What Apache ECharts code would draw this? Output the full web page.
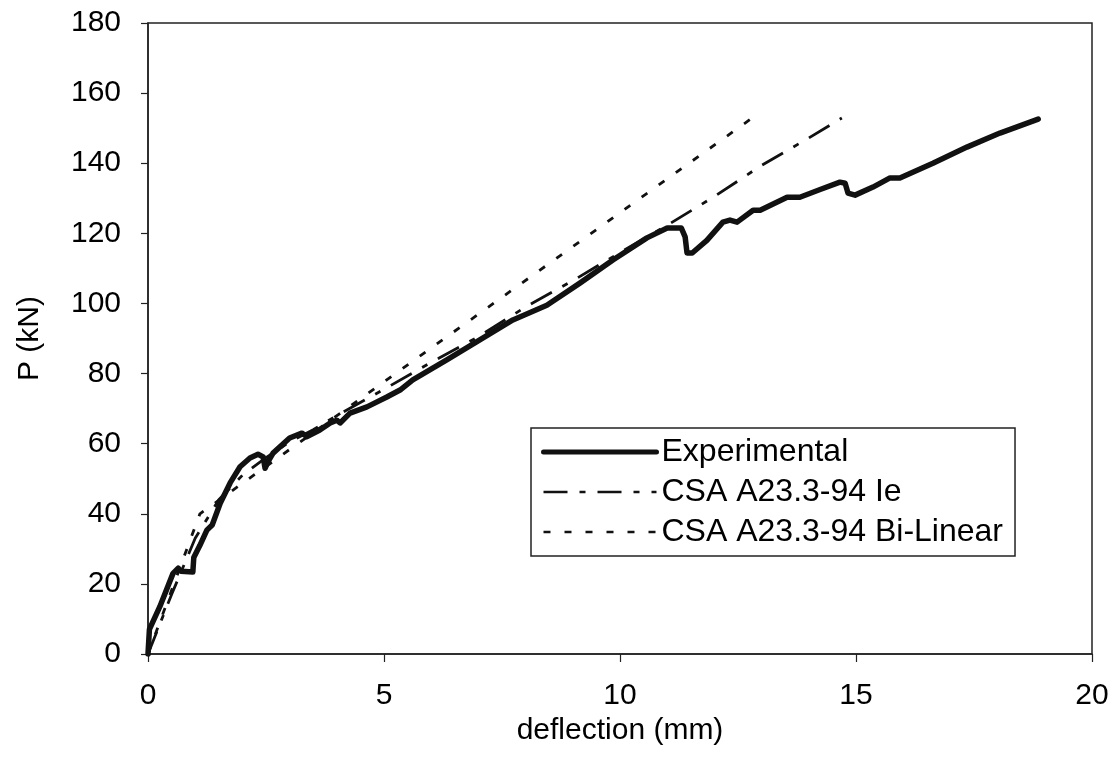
<!DOCTYPE html>
<html>
<head>
<meta charset="utf-8">
<script src="https://cdn.jsdelivr.net/npm/echarts@6/dist/echarts.min.js"></script>
<style>
html,body{margin:0;padding:0;background:#fff;}
#chart{width:1117px;height:757px;}
</style>
</head>
<body>
<div id="chart"></div>
<script>
// Experimental
var expX = [0,0.03,0.25,0.53,0.64,0.7,0.95,0.97,1.1,1.25,1.36,1.53,1.74,1.95,2.16,2.33,2.44,2.48,2.55,2.65,3.0,3.26,3.37,3.64,3.86,4.0,4.07,4.28,4.64,5.06,5.34,5.61,6.33,7.03,7.73,8.45,9.15,9.85,10.57,11.0,11.3,11.38,11.42,11.53,11.84,12.18,12.33,12.48,12.82,12.97,13.54,13.81,14.24,14.66,14.77,14.83,14.98,15.36,15.72,15.93,16.63,17.35,18.05,18.86];
var expY = [0,7,13.5,23,24.5,23.6,23.4,27.5,31,35.4,36.8,43,48.8,53.4,55.9,57,56.2,53,55,57.3,61.6,63,62,63.9,65.9,66.7,65.9,68.7,70.5,73.3,75.3,78.2,83.9,89.6,95.3,99.5,105.8,112.4,118.7,121.5,121.5,119,114.4,114.4,118,123.2,123.8,123.2,126.6,126.6,130.3,130.3,132.5,134.6,134.3,131.5,130.9,133.2,135.8,135.8,140,144.6,148.6,152.6];
// CSA A23.3-94 Ie
var ieX = [0,0.5,1.0,1.5,2.0,2.5,3.0,3.5,4.0,5.0,6.0,7.0,8.0,9.0,10.0,11.0,12.0,13.0,14.0,14.7];
var ieY = [0,17,33,44,51,56,60.5,64,68,75.5,83.2,90.5,99,106.5,114.5,122.3,130.5,139.4,147.2,152.9];
// CSA A23.3-94 Bi-Linear
var blX = [0,1.1,12.8];
var blY = [0,40,152.9];

var xTicks = [0,5,10,15,20];
var yTicks = [0,20,40,60,80,100,120,140,160,180];
var seriesNames = ['Experimental','CSA A23.3-94 Ie','CSA A23.3-94 Bi-Linear'];

function zip(a,b){return a.map(function(v,i){return [v,b[i]];});}

var FONT = '"Liberation Sans", Arial, sans-serif';
var IE_DASH = [24,12,6,12];
var BL_DASH = [7,14];
var chart = echarts.init(document.getElementById('chart'), null, {renderer:'canvas'});
chart.setOption({
  animation:false,
  backgroundColor:'#fff',
  grid:{left:148, top:23, right:25, bottom:103, show:true, borderColor:'#222', borderWidth:1.5, backgroundColor:'transparent'},
  xAxis:{
    type:'value', min:xTicks[0], max:xTicks[xTicks.length-1], interval:5,
    name:'deflection (mm)', nameLocation:'middle', nameGap:45,
    nameTextStyle:{fontFamily:FONT, fontSize:30, color:'#000'},
    axisLine:{lineStyle:{color:'#222', width:1.5}},
    axisTick:{show:true, inside:false, length:8, lineStyle:{color:'#222', width:1.2}},
    axisLabel:{fontFamily:FONT, fontSize:30, color:'#000', margin:27},
    splitLine:{show:false}
  },
  yAxis:{
    type:'value', min:yTicks[0], max:yTicks[yTicks.length-1], interval:20,
    name:'P (kN)', nameLocation:'middle', nameGap:103, nameRotate:90,
    nameTextStyle:{fontFamily:FONT, fontSize:30, color:'#000'},
    axisLine:{lineStyle:{color:'#222', width:1.5}},
    axisTick:{show:true, inside:false, length:7, lineStyle:{color:'#222', width:1.2}},
    axisLabel:{fontFamily:FONT, fontSize:30, color:'#000', margin:27},
    splitLine:{show:false}
  },
  legend:{
    orient:'vertical', left:531, top:428,
    backgroundColor:'#fff', borderColor:'#222', borderWidth:1.5,
    padding:[8,12,8,10], itemGap:8, itemWidth:113, itemHeight:32,
    itemStyle:{opacity:0, borderWidth:0},
    textStyle:{fontFamily:FONT, fontSize:32, lineHeight:32, color:'#000'},
    data:[
      {name:seriesNames[0], lineStyle:{width:5, color:'#111'}},
      {name:seriesNames[1], lineStyle:{width:2.5, color:'#111', type:IE_DASH}},
      {name:seriesNames[2], lineStyle:{width:2.5, color:'#111', type:BL_DASH}}
    ]
  },
  series:[
    {name:seriesNames[0], type:'line', data:zip(expX,expY), showSymbol:false, symbol:'none',
     lineStyle:{color:'#111', width:5.5, cap:'round', join:'round'}, itemStyle:{color:'#111'}, z:3},
    {name:seriesNames[1], type:'line', data:zip(ieX,ieY), showSymbol:false, symbol:'none',
     lineStyle:{color:'#111', width:2.8, type:IE_DASH}, itemStyle:{color:'#111'}, z:2},
    {name:seriesNames[2], type:'line', data:zip(blX,blY), showSymbol:false, symbol:'none',
     lineStyle:{color:'#111', width:2.8, type:BL_DASH}, itemStyle:{color:'#111'}, z:2}
  ]
});
</script>
</body>
</html>
